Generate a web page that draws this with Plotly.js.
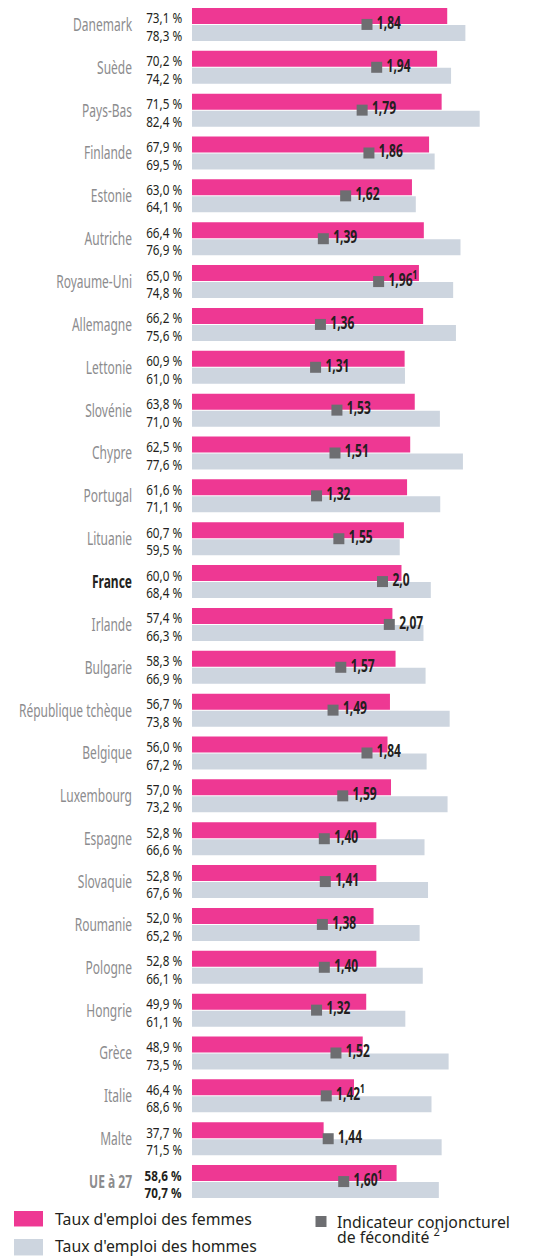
<!DOCTYPE html>
<html>
<head>
<meta charset="utf-8">
<script src="https://cdn.plot.ly/plotly-3.0.1.min.js"></script>
<style>
html,body{margin:0;padding:0;background:#fff;}
#chart{width:538px;height:1256px;}
</style>
</head>
<body>
<div id="chart"></div>
<script>
const countries = ["Danemark","Suède","Pays-Bas","Finlande","Estonie","Autriche","Royaume-Uni","Allemagne","Lettonie","Slovénie","Chypre","Portugal","Lituanie","France","Irlande","Bulgarie","République tchèque","Belgique","Luxembourg","Espagne","Slovaquie","Roumanie","Pologne","Hongrie","Grèce","Italie","Malte","UE à 27"];
const women = [73.1,70.2,71.5,67.9,63.0,66.4,65.0,66.2,60.9,63.8,62.5,61.6,60.7,60.0,57.4,58.3,56.7,56.0,57.0,52.8,52.8,52.0,52.8,49.9,48.9,46.4,37.7,58.6];
const men = [78.3,74.2,82.4,69.5,64.1,76.9,74.8,75.6,61.0,71.0,77.6,71.1,59.5,68.4,66.3,66.9,73.8,67.2,73.2,66.6,67.6,65.2,66.1,61.1,73.5,68.6,71.5,70.7];
const fertility = [1.84,1.94,1.79,1.86,1.62,1.39,1.96,1.36,1.31,1.53,1.51,1.32,1.55,2.0,2.07,1.57,1.49,1.84,1.59,1.40,1.41,1.38,1.40,1.32,1.52,1.42,1.44,1.60];
const fertilityLabels = ["1,84","1,94","1,79","1,86","1,62","1,39","1,96<sup>1</sup>","1,36","1,31","1,53","1,51","1,32","1,55","2,0","2,07","1,57","1,49","1,84","1,59","1,40","1,41","1,38","1,40","1,32","1,52","1,42<sup>1</sup>","1,44","1,60<sup>1</sup>"];
const legendLabels = ["Taux d'emploi des femmes","Taux d'emploi des hommes","Indicateur conjoncturel","de fécondité <sup>2</sup>"];

const PINK = "#ee3893";
const GREY = "#cdd5df";
const MARK = "#6d6e71";
const DARK = "#231f20";
const LABEL = "#8c8c8e";
const FAM = "'Noto Sans', 'Open Sans', sans-serif";

// text measurement (for horizontal condensing of the narrow labels)
const cv = document.createElement('canvas').getContext('2d');
function mw(font, txt){ cv.font = font; return cv.measureText(txt).width; }
const sizeC = 18.5, sizeP = 15, sizeF = 17;
const sxC = 59 / mw(sizeC + "px " + FAM, "Danemark");
const sxP = 36 / mw(sizeP + "px " + FAM, "73,1 %");
const sxF = 24 / mw("bold " + sizeF + "px " + FAM, "1,84");
const sizeL = Math.min(17, 16 * 197 / mw("16px " + FAM, legendLabels[0]));

// plot area geometry (px)
const L = 192, T = 2.5, W = 346, H = 1201;
const px = x => (x - L) / W;
const py = y => 1 - (y - T) / H;

const pct = v => v.toFixed(1).replace('.', ',') + ' %';
const isFr = c => c === "France";
const isEU = c => c === "UE à 27";

const tickText = countries.map(c => isFr(c) ? '<span style="color:' + DARK + '"><b>' + c + '</b></span>' : (isEU(c) ? '<b>' + c + '</b>' : c));

const traces = [
  {type:'bar', orientation:'h', name:legendLabels[0], y:countries, x:women, marker:{color:PINK}, showlegend:false},
  {type:'bar', orientation:'h', name:legendLabels[1], y:countries, x:men, marker:{color:GREY}, showlegend:false},
  {type:'scatter', mode:'markers+text', name:'Indicateur conjoncturel de fécondité', y:countries, x:fertility, xaxis:'x2', yaxis:'y',
   marker:{symbol:'square', size:11, color:MARK}, text:fertilityLabels, textposition:'middle right',
   textfont:{family:FAM, size:sizeF, color:DARK, weight:'bold'}, cliponaxis:false, showlegend:false}
];

const annotations = [];
countries.forEach((c, i) => {
  const bold = isEU(c);
  [[women[i], 7], [men[i], -10.5]].forEach(([v, ys]) => {
    annotations.push({xref:'paper', yref:'y', x:px(183.5), y:c, xanchor:'right', yanchor:'middle', yshift:ys,
      text: bold ? '<b>' + pct(v) + '</b>' : pct(v), showarrow:false,
      font:{family:FAM, size:sizeP, color:DARK}});
  });
});
const nPct = annotations.length;
// legend texts
const lf = {family:FAM, size:sizeL, color:DARK};
annotations.push({xref:'paper', yref:'paper', x:px(53), y:py(1219.5), xanchor:'left', yanchor:'middle', text:legendLabels[0], showarrow:false, font:lf});
annotations.push({xref:'paper', yref:'paper', x:px(53), y:py(1246.5), xanchor:'left', yanchor:'middle', text:legendLabels[1], showarrow:false, font:lf});
annotations.push({xref:'paper', yref:'paper', x:px(335), y:py(1223), xanchor:'left', yanchor:'middle', text:legendLabels[2], showarrow:false, font:lf});
annotations.push({xref:'paper', yref:'paper', x:px(335), y:py(1237), xanchor:'left', yanchor:'middle', text:legendLabels[3], showarrow:false, font:lf});

const shapes = [
  {type:'rect', xref:'paper', yref:'paper', x0:px(14), x1:px(43), y0:py(1211.5), y1:py(1227), fillcolor:PINK, line:{width:0}},
  {type:'rect', xref:'paper', yref:'paper', x0:px(14), x1:px(43), y0:py(1239.5), y1:py(1256), fillcolor:GREY, line:{width:0}},
  {type:'rect', xref:'paper', yref:'paper', x0:px(315.5), x1:px(326.5), y0:py(1216.5), y1:py(1227.5), fillcolor:MARK, line:{width:0}}
];

const layout = {
  width:538, height:1256,
  margin:{l:L, r:538 - L - W, t:T, b:1256 - T - H, pad:0},
  paper_bgcolor:'#fff', plot_bgcolor:'#fff',
  barmode:'group', bargap:0.207, bargroupgap:0.06,
  showlegend:false,
  xaxis:{range:[0, 99.1], visible:false, fixedrange:true},
  xaxis2:{range:[0.036, 3.603], overlaying:'x', visible:false, fixedrange:true},
  yaxis:{type:'category', autorange:false, range:[27.5, -0.5], tickmode:'array', tickvals:countries, ticktext:tickText,
         ticks:'', showline:false, showgrid:false, zeroline:false, ticklabelstandoff:59,
         tickfont:{family:FAM, size:sizeC, color:LABEL}, fixedrange:true},
  annotations:annotations,
  shapes:shapes
};

// horizontally condense rendered label text around its anchored edge
function condense(el, sx, side, dx){
  const bb = el.getBBox();
  if (!bb.width) return;
  const a = side === 'right' ? bb.x + bb.width : bb.x;
  const prev = el.getAttribute('transform') || '';
  el.setAttribute('transform', prev + ' translate(' + (a + (dx || 0)) + ',0) scale(' + sx + ',1) translate(' + (-a) + ',0)');
}

Plotly.newPlot('chart', traces, layout, {displayModeBar:false, staticPlot:true}).then(gd => {
  gd.querySelectorAll('g.ytick text').forEach(el => condense(el, sxC, 'right'));
  gd.querySelectorAll('g.annotation').forEach((g, i) => {
    if (i < nPct){ const t = g.querySelector('text.annotation-text'); if (t) condense(t, sxP, 'right'); }
  });
  gd.querySelectorAll('g.textpoint text').forEach(el => condense(el, sxF, 'left', 2));
});
</script>
</body>
</html>
